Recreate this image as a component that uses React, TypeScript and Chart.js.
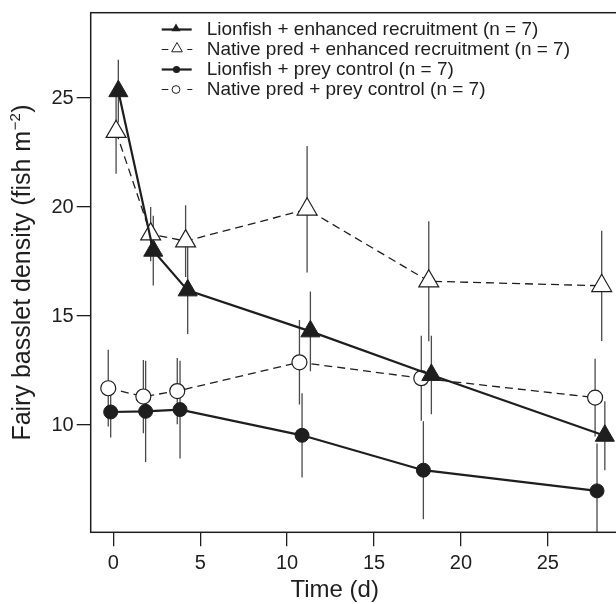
import React, { useEffect, useRef } from 'react';
import { Chart, registerables } from 'chart.js';

Chart.register(...registerables);

// ---- data ----
const seriesLabels = [
  'Lionfish + enhanced recruitment (n = 7)',
  'Native pred + enhanced recruitment (n = 7)',
  'Lionfish + prey control (n = 7)',
  'Native pred + prey control (n = 7)',
];
const xTicks = [0, 5, 10, 15, 20, 25];
const yTicks = [10, 15, 20, 25];
const xTitle = 'Time (d)';
const yTitleMain = 'Fairy basslet density (fish m';
const yTitleSup = '\u22122';
const yTitleEnd = ')';

// Lionfish + enhanced recruitment
const lfEnhX = [0.29, 2.3, 4.28, 11.34, 18.3, 28.28];
const lfEnhY = [25.32, 18.0, 16.18, 14.3, 12.3, 9.51];
const lfEnhSE = [1.44, 1.6, 2.0, 1.83, 1.8, 1.58];
// Native pred + enhanced recruitment
const npEnhX = [0.16, 2.15, 4.16, 11.15, 18.15, 28.1];
const npEnhY = [23.46, 18.76, 18.44, 19.9, 16.6, 16.39];
const npEnhSE = [1.93, 1.24, 1.65, 2.9, 2.75, 2.53];
// Lionfish + prey control
const lfCtlX = [-0.15, 1.86, 3.84, 10.86, 17.84, 27.83];
const lfCtlY = [10.6, 10.63, 10.71, 9.53, 7.93, 6.98];
const lfCtlSE = [1.17, 2.32, 2.24, 1.93, 2.25, 2.17];
// Native pred + prey control
const npCtlX = [-0.29, 1.73, 3.68, 10.71, 17.72, 27.72];
const npCtlY = [11.69, 11.31, 11.56, 12.88, 12.15, 11.26];
const npCtlSE = [1.76, 1.68, 1.52, 1.94, 1.95, 1.78];

const FONT = "'Liberation Sans', Arial, Helvetica, sans-serif";
const INK = '#1e1e1e';

const pts = (xs: number[], ys: number[]) => xs.map((x, i) => ({ x, y: ys[i] }));
const errs = [lfEnhSE, lfCtlSE, npEnhSE, npCtlSE];

const errorBarPlugin = {
  id: 'errorBars',
  beforeDatasetsDraw(chart: any) {
    const { ctx, chartArea, scales } = chart;
    ctx.save();
    ctx.beginPath();
    ctx.rect(chartArea.left, chartArea.top, chartArea.right - chartArea.left, chartArea.bottom - chartArea.top);
    ctx.clip();
    ctx.strokeStyle = '#4a4a4a';
    ctx.lineWidth = 1.3;
    chart.data.datasets.forEach((ds: any, di: number) => {
      const se = errs[di];
      ds.data.forEach((p: any, i: number) => {
        const px = scales.x.getPixelForValue(p.x);
        const y1 = scales.y.getPixelForValue(p.y + se[i]);
        const y2 = scales.y.getPixelForValue(p.y - se[i]);
        ctx.beginPath();
        ctx.moveTo(px, y1);
        ctx.lineTo(px, y2);
        ctx.stroke();
      });
    });
    ctx.restore();
  },
};

const tri = (ctx: CanvasRenderingContext2D, x: number, y: number, r: number) => {
  ctx.beginPath();
  ctx.moveTo(x, y - r);
  ctx.lineTo(x + r * Math.sin((2 * Math.PI) / 3), y + r / 2);
  ctx.lineTo(x - r * Math.sin((2 * Math.PI) / 3), y + r / 2);
  ctx.closePath();
};

const decorPlugin = {
  id: 'decor',
  afterDraw(chart: any) {
    const { ctx, chartArea } = chart;
    ctx.save();
    // frame
    ctx.strokeStyle = INK;
    ctx.lineWidth = 1.5;
    ctx.strokeRect(chartArea.left, chartArea.top, chartArea.right - chartArea.left, chartArea.bottom - chartArea.top);

    // x title
    ctx.fillStyle = INK;
    ctx.font = `24px ${FONT}`;
    ctx.textAlign = 'center';
    ctx.textBaseline = 'alphabetic';
    ctx.fillText(xTitle, chartArea.left + 244, 597);

    // y title (rotated, with superscript)
    const size = 25;
    const supSize = 15;
    ctx.translate(29.5, 272.5);
    ctx.rotate(-Math.PI / 2);
    ctx.font = `${size}px ${FONT}`;
    const w1 = ctx.measureText(yTitleMain).width;
    const w3 = ctx.measureText(yTitleEnd).width;
    ctx.font = `${supSize}px ${FONT}`;
    const w2 = ctx.measureText(yTitleSup).width;
    const total = w1 + w2 + w3 + 1;
    let cx = -total / 2;
    ctx.textAlign = 'left';
    ctx.font = `${size}px ${FONT}`;
    ctx.fillText(yTitleMain, cx, 0);
    cx += w1 + 0.5;
    ctx.font = `${supSize}px ${FONT}`;
    ctx.fillText(yTitleSup, cx, -10);
    cx += w2 + 0.5;
    ctx.font = `${size}px ${FONT}`;
    ctx.fillText(yTitleEnd, cx, 0);
    ctx.restore();

    // legend
    ctx.save();
    ctx.font = `19px ${FONT}`;
    ctx.fillStyle = INK;
    ctx.strokeStyle = INK;
    ctx.textAlign = 'left';
    ctx.textBaseline = 'middle';
    const rowY = [29.5, 49.5, 69.5, 89.5];
    seriesLabels.forEach((lab, i) => {
      const y = rowY[i];
      const solid = i === 0 || i === 2;
      ctx.lineWidth = solid ? 2.2 : 1.2;
      ctx.beginPath();
      if (solid) {
        ctx.moveTo(161.7, y);
        ctx.lineTo(191.7, y);
      } else {
        ctx.moveTo(161.7, y);
        ctx.lineTo(168.3, y);
        ctx.moveTo(187.3, y);
        ctx.lineTo(192.3, y);
      }
      ctx.stroke();
      ctx.lineWidth = 1;
      if (i === 0) {
        tri(ctx, 176, y - 0.8, 5.2);
        ctx.fill();
      } else if (i === 1) {
        tri(ctx, 177, y - 0.8, 6.2);
        ctx.fillStyle = '#fff';
        ctx.fill();
        ctx.stroke();
        ctx.fillStyle = INK;
      } else if (i === 2) {
        ctx.beginPath();
        ctx.arc(176.5, y, 3.6, 0, Math.PI * 2);
        ctx.fill();
      } else {
        ctx.beginPath();
        ctx.arc(176, y, 3.9, 0, Math.PI * 2);
        ctx.fillStyle = '#fff';
        ctx.fill();
        ctx.stroke();
        ctx.fillStyle = INK;
      }
      ctx.fillText(lab, 206.7, y + 0.5);
    });
    ctx.restore();
  },
};

export default function App() {
  const ref = useRef<HTMLCanvasElement>(null);
  useEffect(() => {
    if (!ref.current) return;
    const chart = new Chart(ref.current, {
      type: 'line',
      data: {
        datasets: [
          {
            label: seriesLabels[0],
            data: pts(lfEnhX, lfEnhY),
            borderColor: INK,
            borderWidth: 2.2,
            pointStyle: 'triangle',
            pointRadius: 11,
            pointBackgroundColor: INK,
            pointBorderColor: INK,
            pointBorderWidth: 1,
            tension: 0,
          },
          {
            label: seriesLabels[2],
            data: pts(lfCtlX, lfCtlY),
            borderColor: INK,
            borderWidth: 2.2,
            pointStyle: 'circle',
            pointRadius: 7,
            pointBackgroundColor: INK,
            pointBorderColor: INK,
            pointBorderWidth: 1,
            tension: 0,
          },
          {
            label: seriesLabels[1],
            data: pts(npEnhX, npEnhY),
            borderColor: INK,
            borderWidth: 1.3,
            borderDash: [8, 5],
            pointStyle: 'triangle',
            pointRadius: 11.5,
            pointBackgroundColor: '#fff',
            pointBorderColor: INK,
            pointBorderWidth: 1.2,
            tension: 0,
          },
          {
            label: seriesLabels[3],
            data: pts(npCtlX, npCtlY),
            borderColor: INK,
            borderWidth: 1.3,
            borderDash: [8, 5],
            pointStyle: 'circle',
            pointRadius: 7.5,
            pointBackgroundColor: '#fff',
            pointBorderColor: INK,
            pointBorderWidth: 1.2,
            tension: 0,
          },
        ],
      },
      options: {
        animation: false,
        responsive: false,
        devicePixelRatio: 1,
        layout: { padding: { top: 11, left: 0, right: 15.7, bottom: 0 } },
        plugins: { legend: { display: false }, tooltip: { enabled: false } },
        scales: {
          x: {
            type: 'linear',
            min: -1.3,
            max: 29.4,
            afterBuildTicks: (s: any) => {
              s.ticks = xTicks.map((v) => ({ value: v }));
            },
            afterFit: (s: any) => {
              s.height = 71.7;
              s.paddingLeft = 0;
              s.paddingRight = 0;
            },
            grid: { drawOnChartArea: false, drawTicks: true, tickLength: 14, color: INK, lineWidth: 1.3 },
            border: { display: false },
            ticks: { font: { family: FONT, size: 20 }, color: INK, padding: 5, maxRotation: 0, autoSkip: false },
          },
          y: {
            type: 'linear',
            min: 5.08,
            max: 28.92,
            afterBuildTicks: (s: any) => {
              s.ticks = yTicks.map((v) => ({ value: v }));
            },
            afterFit: (s: any) => {
              s.width = 90.7;
              s.paddingTop = 0;
              s.paddingBottom = 0;
            },
            grid: { drawOnChartArea: false, drawTicks: true, tickLength: 14, color: INK, lineWidth: 1.3 },
            border: { display: false },
            ticks: { font: { family: FONT, size: 20 }, color: INK, padding: 3, autoSkip: false },
          },
        },
      },
      plugins: [errorBarPlugin, decorPlugin],
    });
    return () => chart.destroy();
  }, []);

  return (
    <div style={{ position: 'absolute', left: 0, top: 0, width: 616, height: 604, overflow: 'hidden', background: '#fff' }}>
      <canvas ref={ref} width={640} height={604} style={{ width: 640, height: 604, display: 'block' }} />
    </div>
  );
}
